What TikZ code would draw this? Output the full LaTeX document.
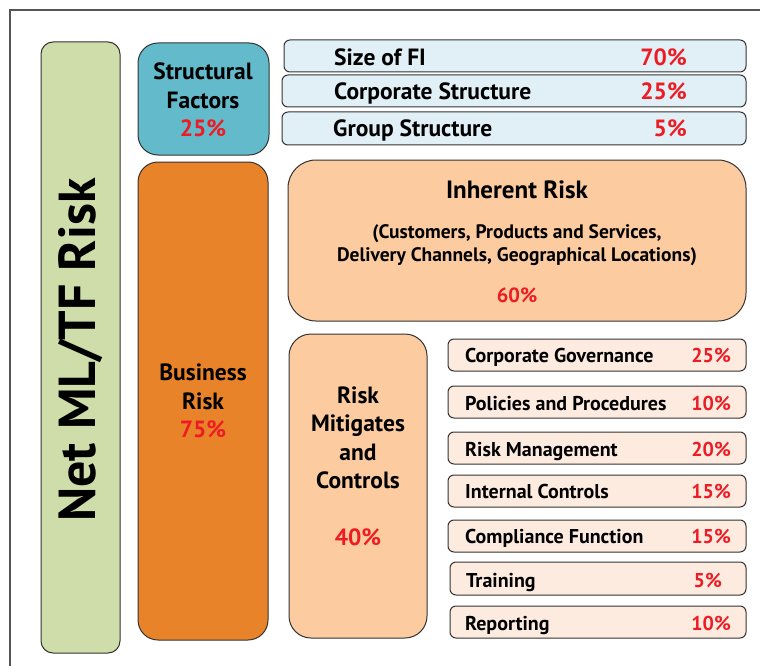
\documentclass[tikz,border=0pt]{standalone}
\usepackage{fontspec}
\setmainfont{PT Sans}
\definecolor{netgreen}{HTML}{CEDDAA}
\definecolor{structteal}{HTML}{62BACB}
\definecolor{factorblue}{HTML}{E1F0F6}
\definecolor{busorange}{HTML}{E8832A}
\definecolor{riskpeach}{HTML}{FCCBA0}
\definecolor{ctrlpeach}{HTML}{FDEBE0}
\definecolor{pctred}{HTML}{ED1C24}
\definecolor{boxline}{HTML}{333333}
\definecolor{frameline}{HTML}{555555}

\begin{document}
\begin{tikzpicture}[x=1pt,y=-1pt,
  box/.style={draw=boxline,line width=1pt},
  bigtext/.style={font=\bfseries\fontsize{23.5}{28.5}\selectfont,align=center},
  toplbl/.style={font=\bfseries\fontsize{23.5}{28}\selectfont,anchor=base west,inner sep=0pt},
  toppct/.style={font=\bfseries\fontsize{23.5}{28}\selectfont,anchor=base east,inner sep=0pt,text=pctred},
  ctrllbl/.style={font=\bfseries\fontsize{20}{24}\selectfont,anchor=base west,inner sep=0pt},
  ctrlpct/.style={font=\bfseries\fontsize{20}{24}\selectfont,anchor=base east,inner sep=0pt,text=pctred}]
\useasboundingbox (0,0) rectangle (760,666);
\draw[frameline,line width=1.5pt] (10,666) -- (10,10) -- (760,10); % frame

% net risk column
\filldraw[box,fill=netgreen,rounded corners=12pt] (41,42) rectangle (120,653);
\node[rotate=90,font=\bfseries\fontsize{52}{60}\selectfont] (net) at (81,350) {Net ML/TF Risk};

% structural factors
\filldraw[box,fill=structteal,rounded corners=20pt] (138,43) rectangle (269,155);
\node[bigtext] (struct) at (203,100) {Structural\\Factors\\\textcolor{pctred}{25\%}};
\filldraw[box,fill=factorblue,rounded corners=6pt] (284,40) rectangle (746,72);
\node[toplbl] (sizefi) at (334,66) {Size of FI};
\node[toppct] (sizefipct) at (687,66) {70\%};
\filldraw[box,fill=factorblue,rounded corners=6pt] (282,75) rectangle (746,107);
\node[toplbl] (corpstr) at (334,100) {Corporate Structure};
\node[toppct] (corpstrpct) at (687,100) {25\%};
\filldraw[box,fill=factorblue,rounded corners=6pt] (282,112) rectangle (746,145);
\node[toplbl] (groupstr) at (333,137) {Group Structure};
\node[toppct] (groupstrpct) at (687,137) {5\%};

% business risk
\filldraw[box,fill=busorange,rounded corners=20pt] (138,162) rectangle (268,640);
\node[bigtext] (business) at (203,401) {Business\\Risk\\\textcolor{pctred}{75\%}};
\filldraw[box,fill=riskpeach,rounded corners=28pt] (288,160) rectangle (746,321);
\node[font=\bfseries\fontsize{25}{30}\selectfont] (inherent) at (517,190) {Inherent Risk};
\node[font=\bfseries\fontsize{19.5}{23}\selectfont,align=center] (inhdesc) at (517,245) {(Customers, Products and Services,\\Delivery Channels, Geographical Locations)};
\node[font=\bfseries\fontsize{20.5}{24}\selectfont,text=pctred] (inhpct) at (517,295) {60\%};

% mitigants and controls
\filldraw[box,fill=riskpeach,rounded corners=22pt] (289,334) rectangle (427,638);
\node[bigtext] (mitig) at (358,466) {Risk\\Mitigates\\and\\Controls\\[28pt]\textcolor{pctred}{40\%}};
\filldraw[box,fill=ctrlpeach,rounded corners=6pt] (448,339) rectangle (746,371);
\node[ctrllbl] (gov) at (465,362) {Corporate Governance};
\node[ctrlpct] (govpct) at (731,362) {25\%};
\filldraw[box,fill=ctrlpeach,rounded corners=6pt] (448,386) rectangle (746,418);
\node[ctrllbl] (policy) at (465,410) {Policies and Procedures};
\node[ctrlpct] (policypct) at (731,410) {10\%};
\filldraw[box,fill=ctrlpeach,rounded corners=6pt] (448,432) rectangle (746,464);
\node[ctrllbl] (riskmgmt) at (465,456) {Risk Management};
\node[ctrlpct] (riskmgmtpct) at (731,456) {20\%};
\filldraw[box,fill=ctrlpeach,rounded corners=6pt] (448,475) rectangle (746,507);
\node[ctrllbl] (intctrl) at (465,498) {Internal Controls};
\node[ctrlpct] (intctrlpct) at (731,498) {15\%};
\filldraw[box,fill=ctrlpeach,rounded corners=6pt] (448,520) rectangle (746,552);
\node[ctrllbl] (compl) at (465,543) {Compliance Function};
\node[ctrlpct] (complpct) at (731,543) {15\%};
\filldraw[box,fill=ctrlpeach,rounded corners=6pt] (450,562) rectangle (746,595);
\node[ctrllbl] (train) at (466,587) {Training};
\node[ctrlpct] (trainpct) at (722,587) {5\%};
\filldraw[box,fill=ctrlpeach,rounded corners=6pt] (450,606) rectangle (746,638);
\node[ctrllbl] (report) at (465,630) {Reporting};
\node[ctrlpct] (reportpct) at (731,630) {10\%};
\end{tikzpicture}
\end{document}
